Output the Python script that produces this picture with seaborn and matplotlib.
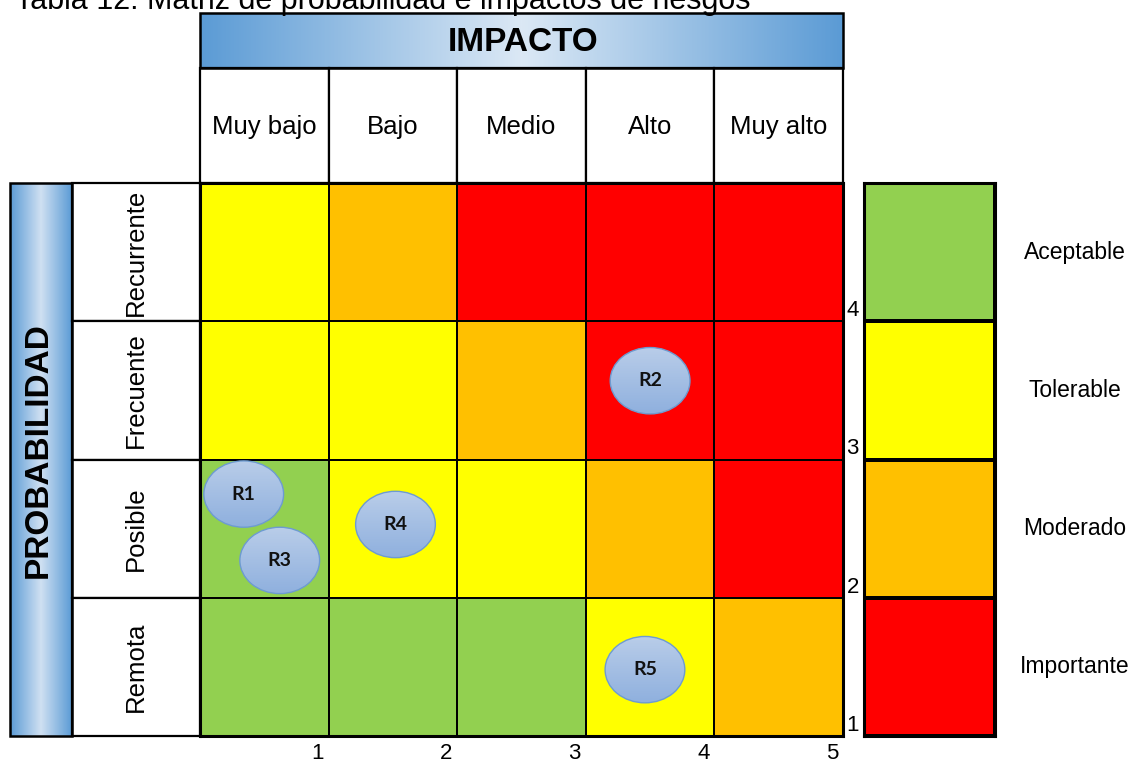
import numpy as np
import pandas as pd
import matplotlib
matplotlib.use("Agg")
import matplotlib.pyplot as plt
import seaborn as sns
from matplotlib.colors import ListedColormap, LinearSegmentedColormap
from matplotlib.patches import Rectangle, Ellipse
from matplotlib.transforms import ScaledTranslation

# ---------------- data ----------------
title = "Tabla 12: Matriz de probabilidad e impactos de riesgos"
impact_labels = ["Muy bajo", "Bajo", "Medio", "Alto", "Muy alto"]
impact_ticks = ["1", "2", "3", "4", "5"]
prob_labels = ["Remota", "Posible", "Frecuente", "Recurrente"]  # bottom -> top
prob_ticks = ["1", "2", "3", "4"]
level_names = ["Aceptable", "Tolerable", "Moderado", "Importante"]
level_colors = ["#92d050", "#ffff00", "#ffc000", "#ff0000"]

# risk level of each cell (0 Aceptable .. 3 Importante), columns Muy bajo..Muy alto
remota = [0, 0, 0, 1, 2]
posible = [0, 1, 1, 2, 3]
frecuente = [1, 1, 2, 3, 3]
recurrente = [1, 2, 3, 3, 3]

risk_ids = ["R1", "R2", "R3", "R4", "R5"]
risk_impact = [0.34, 3.50, 0.62, 1.52, 3.46]
risk_prob = [1.75, 2.57, 1.27, 1.53, 0.48]
risk_w = 0.62
risk_h = 0.48

# ---------------- style ----------------
sns.set_style("white")
plt.rcParams["font.family"] = ["Liberation Sans", "DejaVu Sans"]
plt.rcParams["text.color"] = "black"
plt.rcParams["xtick.color"] = "black"
plt.rcParams["ytick.color"] = "black"
plt.rcParams["axes.labelcolor"] = "black"

W, H = 1133, 762
GL, GR, GT, GB = 200, 843, 183, 736
LL, LR = 864, 995
HT, HB = 13, 68
BL, BR = 10, 72


def box(x0, y0, x1, y1):
    return [x0 / W, 1 - y1 / H, (x1 - x0) / W, (y1 - y0) / H]


fig = plt.figure(figsize=(W / 100, H / 100), dpi=100)
canvas = fig.add_axes([0, 0, 1, 1])
canvas.axis("off")

blue = LinearSegmentedColormap.from_list("blue", ["#5b9bd5", "#dbe8f5"])
grad = np.concatenate([np.linspace(0, 1, 200), np.linspace(1, 0, 200)])[None, :]
blue2 = LinearSegmentedColormap.from_list("blue2", ["#5b9bd5", "#cfe0f2"])

# IMPACTO band
canvas.imshow(grad, extent=(GL, GR, HB, HT), cmap=blue, aspect="auto", zorder=1)
canvas.add_patch(Rectangle((GL, HT), GR - GL, HB - HT, fill=False, ec="black", lw=1.8, zorder=3))
canvas.text((GL + GR) / 2 + 2, (HT + HB) / 2 + 2, "IMPACTO", ha="center", va="center",
            fontsize=24, fontweight="bold", zorder=4)

# PROBABILIDAD band
canvas.imshow(grad, extent=(BL, BR, GB, GT), cmap=blue2, aspect="auto", zorder=1)
canvas.add_patch(Rectangle((BL, GT), BR - BL, GB - GT, fill=False, ec="black", lw=1.8, zorder=3))
canvas.text((BL + BR) / 2 - 3, (GT + GB) / 2 - 9, "PROBABILIDAD", ha="center", va="center",
            rotation=90, fontsize=24, fontweight="bold", zorder=4)

# header cells and row-label cells
cw = (GR - GL) / len(impact_labels)
rh = (GB - GT) / len(prob_labels)
for i in range(len(impact_labels)):
    canvas.add_patch(Rectangle((GL + i * cw, HB), cw, GT - HB, fc="white", ec="black", lw=1.6, zorder=2))
for j in range(len(prob_labels)):
    canvas.add_patch(Rectangle((BR, GT + j * rh), GL - BR, rh, fc="white", ec="black", lw=1.6, zorder=2))

canvas.text(15, 9, title, ha="left", va="baseline", fontsize=22)
canvas.set_xlim(0, W)
canvas.set_ylim(H, 0)

# ---------------- main matrix ----------------
cmap = ListedColormap(level_colors)
grid = pd.DataFrame([remota, posible, frecuente, recurrente], index=prob_labels, columns=impact_labels)
ax = fig.add_axes(box(GL, GT, GR, GB))
sns.heatmap(grid, ax=ax, cmap=cmap, vmin=-0.5, vmax=3.5, cbar=False,
            linewidths=1.3, linecolor="black",
            xticklabels=impact_labels, yticklabels=prob_labels)
ax.set_ylim(0, len(prob_labels))
for s in ax.spines.values():
    s.set_visible(True)
    s.set_linewidth(2.2)
    s.set_color("black")

ax.set_xlabel("")
ax.set_ylabel("")
ax.xaxis.set_ticks_position("top")
ax.tick_params(axis="x", length=0, pad=40, labelsize=18.5, labeltop=True, labelbottom=False)
plt.setp(ax.get_xticklabels(), rotation=0, ha="center", va="center")
ax.tick_params(axis="y", length=0, pad=46, labelsize=18.5)
plt.setp(ax.get_yticklabels(), rotation=90, ha="center", va="center")

secx = ax.secondary_xaxis("bottom")
secx.set_xticks(range(1, len(impact_ticks) + 1), impact_ticks)
secx.tick_params(length=0, pad=5, labelsize=16)
shift_left = ScaledTranslation(-5 / 100, 0, fig.dpi_scale_trans)
for lbl in secx.get_xticklabels():
    lbl.set_ha("right")
    lbl.set_transform(lbl.get_transform() + shift_left)
secx.spines["bottom"].set_visible(False)

secy = ax.secondary_yaxis("right")
secy.set_yticks(range(len(prob_ticks)), prob_ticks)
secy.tick_params(length=0, pad=2.5, labelsize=16)
plt.setp(secy.get_yticklabels(), va="bottom")
secy.spines["right"].set_visible(False)

# risks
egrad = np.linspace(0, 1, 100)[:, None]
ecmap = LinearSegmentedColormap.from_list("ell", ["#b9cde9", "#8fb0de"])
for rid, x, y in zip(risk_ids, risk_impact, risk_prob):
    ell = Ellipse((x, y), risk_w, risk_h, fc="none", ec="#6d9bd1", lw=1.0, zorder=6)
    ax.add_patch(ell)
    im = ax.imshow(egrad, extent=(x - risk_w / 2, x + risk_w / 2, y - risk_h / 2, y + risk_h / 2),
                   origin="upper", cmap=ecmap, aspect="auto", zorder=5)
    im.set_clip_path(ell)
    ax.text(x, y, rid, ha="center", va="center", fontsize=14, fontweight="bold",
            family=["Lato", "DejaVu Sans"], color="#111111", zorder=7)
ax.set_xlim(0, len(impact_labels))
ax.set_ylim(0, len(prob_labels))

# ---------------- legend column ----------------
ax2 = fig.add_axes(box(LL, GT, LR, GB))
leg = pd.DataFrame({"nivel": range(len(level_names))}, index=level_names)
sns.heatmap(leg, ax=ax2, cmap=cmap, vmin=-0.5, vmax=3.5, cbar=False,
            linewidths=1.5, linecolor="black", xticklabels=False, yticklabels=level_names)
for s in ax2.spines.values():
    s.set_visible(True)
    s.set_linewidth(2.2)
    s.set_color("black")
ax2.set_xlabel("")
ax2.set_ylabel("")
ax2.yaxis.set_ticks_position("right")
ax2.tick_params(axis="y", length=0, pad=57.6, labelsize=16.5, labelright=True, labelleft=False)
plt.setp(ax2.get_yticklabels(), rotation=0, ha="center", va="center")

fig.savefig("out.png", dpi=100)
